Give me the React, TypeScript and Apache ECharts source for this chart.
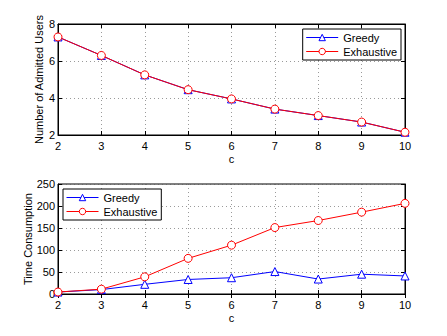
import React, { useEffect, useRef } from "react";
import * as echarts from "echarts";

const cValues = [2, 3, 4, 5, 6, 7, 8, 9, 10];
const usersGreedy = [7.3, 6.3, 5.25, 4.45, 3.95, 3.4, 3.05, 2.7, 2.15];
const usersExhaustive = [7.3, 6.3, 5.25, 4.45, 3.95, 3.4, 3.05, 2.7, 2.15];
const timeGreedy = [4.5, 10, 22, 33, 37, 51, 34, 45, 41];
const timeExhaustive = [4.5, 11, 39, 81, 111, 151, 167, 186, 206];

const FONT = "Liberation Sans";
const BLUE = "#0000ff";
const RED = "#ff0000";

function pairs(ys: number[]) {
  return cValues.map((c, i) => [c, ys[i]]);
}

export default function App() {
  const ref = useRef<HTMLDivElement>(null);
  useEffect(() => {
    if (!ref.current) return;
    const chart = echarts.init(ref.current, undefined, { renderer: "svg" });
    const textStyle = { fontFamily: FONT, fontSize: 11, color: "#000" };
    const grids = [
      { left: 58, right: 42, top: 24, height: 111, show: true, borderColor: "#000", borderWidth: 1, backgroundColor: "#fff" },
      { left: 58, right: 42, top: 184, height: 110, show: true, borderColor: "#000", borderWidth: 1, backgroundColor: "#fff" },
    ];
    const gridLine = { show: true, lineStyle: { color: "#555", type: [1, 3], width: 0.6 } };
    const xMain = (gi: number) => ({
      type: "value",
      gridIndex: gi,
      min: 2,
      max: 10,
      interval: 1,
      name: "c",
      nameLocation: "middle",
      nameGap: 18,
      nameMoveOverlap: false,
      nameTextStyle: textStyle,
      axisLine: { show: true, lineStyle: { color: "#000", width: 1 } },
      axisTick: { show: true, inside: true, length: 4, lineStyle: { color: "#000" } },
      axisLabel: { ...textStyle, margin: 5 },
      splitLine: gridLine,
    });
    const xTop = (gi: number) => ({
      type: "value",
      gridIndex: gi,
      position: "top",
      min: 2,
      max: 10,
      interval: 1,
      axisLine: { show: true, lineStyle: { color: "#000" } },
      axisTick: { show: true, inside: true, length: 4, lineStyle: { color: "#000" } },
      axisLabel: { show: false },
      splitLine: { show: false },
    });
    const yMain = (gi: number, min: number, max: number, interval: number, name: string, gap: number) => ({
      type: "value",
      gridIndex: gi,
      min,
      max,
      interval,
      name,
      nameLocation: "middle",
      nameGap: gap,
      nameMoveOverlap: false,
      nameTextStyle: textStyle,
      axisLine: { show: true, lineStyle: { color: "#000" } },
      axisTick: { show: true, inside: true, length: 4, lineStyle: { color: "#000" } },
      axisLabel: { ...textStyle, margin: 3 },
      splitLine: gridLine,
    });
    const yRight = (gi: number, min: number, max: number, interval: number) => ({
      type: "value",
      gridIndex: gi,
      position: "right",
      min,
      max,
      interval,
      axisLine: { show: true, lineStyle: { color: "#000" } },
      axisTick: { show: true, inside: true, length: 4, lineStyle: { color: "#000" } },
      axisLabel: { show: false },
      splitLine: { show: false },
    });
    const lineSeries = (name: string, data: number[], xi: number, yi: number, color: string, symbol: string) => ({
      type: "line",
      name,
      xAxisIndex: xi,
      yAxisIndex: yi,
      data: pairs(data),
      symbol,
      symbolSize: 8,
      showAllSymbol: true,
      lineStyle: { color, width: 1 },
      itemStyle: { color: "#fff", borderColor: color, borderWidth: 1 },
      emphasis: { disabled: true },
    });
    const legendBase = {
      orient: "vertical",
      borderColor: "#000",
      borderWidth: 1,
      backgroundColor: "#fff",
      padding: [3, 4, 3, 3],
      itemGap: 3,
      itemWidth: 32,
      itemHeight: 8,
      textStyle: { ...textStyle, fontSize: 11 },
      lineStyle: { width: 1 },
      data: [
        { name: "Greedy", itemStyle: { color: "#fff", borderColor: BLUE, borderWidth: 1 }, lineStyle: { color: BLUE, width: 1 } },
        { name: "Exhaustive", itemStyle: { color: "#fff", borderColor: RED, borderWidth: 1 }, lineStyle: { color: RED, width: 1 } },
      ],
    };
    chart.setOption({
      animation: false,
      grid: grids,
      xAxis: [xMain(0), xTop(0), xMain(1), xTop(1)],
      yAxis: [
        yMain(0, 2, 8, 2, "Number of Admitted Users", 14),
        yRight(0, 2, 8, 2),
        yMain(1, 0, 250, 50, "Time Consumption", 25),
        yRight(1, 0, 250, 50),
      ],
      legend: [
        { ...legendBase, right: 46, top: 29 },
        { ...legendBase, left: 63, top: 189 },
      ],
      series: [
        lineSeries("Greedy", usersGreedy, 0, 0, BLUE, "triangle"),
        lineSeries("Exhaustive", usersExhaustive, 0, 0, RED, "circle"),
        lineSeries("Greedy", timeGreedy, 2, 2, BLUE, "triangle"),
        lineSeries("Exhaustive", timeExhaustive, 2, 2, RED, "circle"),
      ],
    });
    return () => chart.dispose();
  }, []);
  return <div ref={ref} style={{ width: 447, height: 336, position: "absolute", left: 0, top: 0 }} />;
}
